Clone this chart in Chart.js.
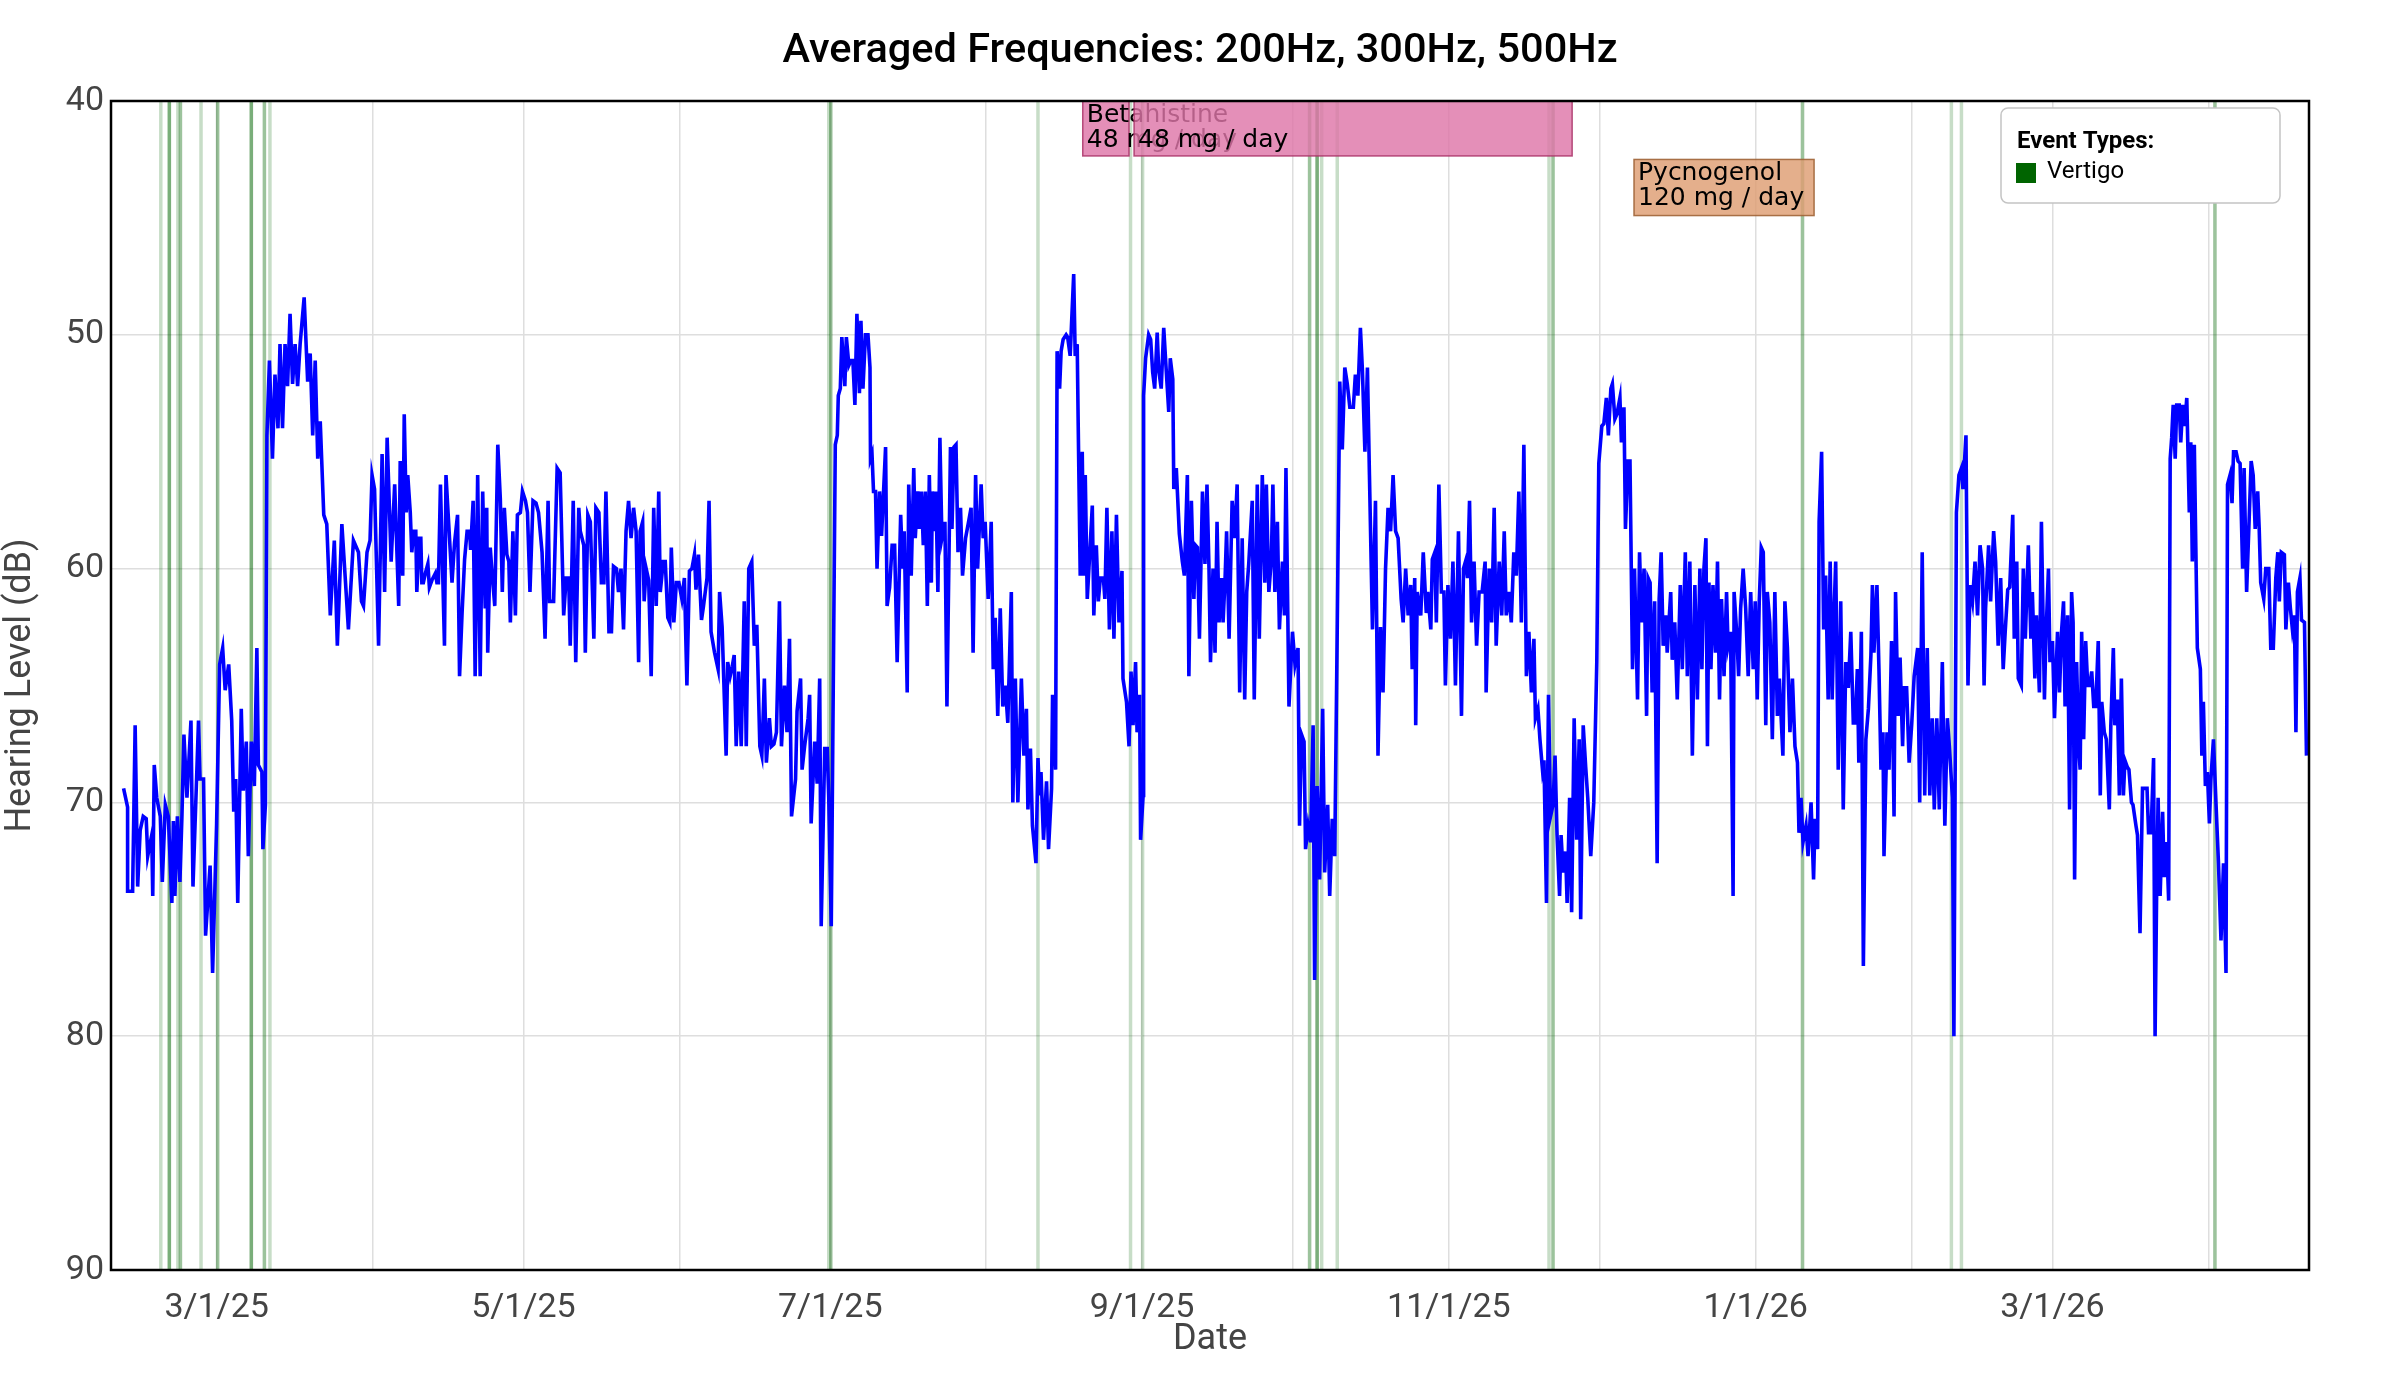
<!DOCTYPE html>
<html>
<head>
<meta charset="utf-8">
<title>Averaged Frequencies</title>
<script src="https://cdn.jsdelivr.net/npm/chart.js@4.4.1/dist/chart.umd.min.js"></script>
<style>
  html, body { margin: 0; padding: 0; background: #fff; }
</style>
</head>
<body>
<canvas id="hearingChart" width="2400" height="1400"></canvas>
<script>
// x values are days counted from 2025-03-01
const days = [
  -18.5,-17.7,-17.7,-16.7,-16.2,-15.7,-15.2,-14.6,-14.0,-13.7,
  -12.9,-12.7,-12.4,-11.9,-11.2,-10.8,-10.2,-9.6,-8.9,-8.6,
  -8.3,-7.8,-7.3,-6.9,-6.5,-5.9,-5.1,-4.7,-3.6,-3.3,
  -2.6,-2.2,-1.3,-0.8,0.0,0.6,1.2,1.7,2.4,3.0,
  3.4,3.8,4.2,4.9,5.3,5.9,6.3,6.9,7.5,8.0,
  8.3,9.0,9.2,9.7,10.0,10.5,11.1,11.6,12.2,12.6,
  13.1,13.6,14.1,14.6,15.1,15.6,16.1,16.6,17.4,18.1,
  18.6,19.1,19.6,20.1,20.6,21.3,21.9,22.6,23.4,24.0,
  24.9,25.6,26.2,27.2,28.2,28.8,29.2,29.9,30.5,30.9,
  31.4,32.2,32.9,33.4,33.9,34.7,35.4,36.2,36.5,37.0,
  37.3,
  37.7,38.0,38.5,38.8,39.2,39.6,39.8,40.3,40.6,40.8,
  41.1,41.5,42.0,42.3,42.8,43.5,43.8,44.1,44.5,44.8,
  45.3,45.6,46.3,46.8,47.3,47.9,48.3,48.8,49.3,49.8,
  50.3,50.5,51.0,51.4,51.9,52.4,52.9,53.4,53.7,53.9,
  54.4,54.7,55.3,55.9,56.4,56.8,57.2,57.7,58.1,58.4,
  58.9,59.4,59.8,60.4,60.8,61.4,61.8,62.3,62.9,63.5,
  64.0,64.7,65.3,65.9,66.2,67.0,67.7,68.3,69.0,69.5,
  70.0,70.3,70.9,71.4,72.0,72.3,73.0,73.3,73.8,74.3,
  75.0,75.4,76.0,76.5,77.0,77.4,78.0,78.5,78.9,79.5,
  79.9,80.4,80.9,81.4,81.9,82.4,82.9,83.4,83.9,84.2,
  84.7,85.0,85.4,85.9,86.4,86.9,87.4,87.9,88.2,88.8,
  89.2,89.7,90.1,90.4,90.9,91.4,91.9,
  92.5,93.0,93.5,94.0,94.5,95.0,95.3,95.8,96.4,96.8,
  97.5,97.9,98.3,99.0,99.7,100.0,100.5,101.3,101.6,102.1,
  102.5,102.9,103.3,103.8,104.3,104.9,105.3,105.8,106.4,106.9,
  107.4,108.0,108.4,108.9,109.3,109.9,110.3,110.8,111.3,111.9,
  112.3,112.9,113.4,113.9,114.3,114.7,115.1,115.4,116.1,116.4,
  116.9,117.6,117.9,118.2,118.9,119.4,119.9,120.2,120.9,121.4,
  121.7,122.2,123.0,123.4,123.6,124.0,124.3,124.9,125.2,125.7,
  126.1,126.5,126.9,127.3,127.8,128.1,128.5,129.0,129.5,129.9,
  130.0,130.3,130.6,131.0,131.3,131.8,132.2,132.6,133.0,133.3,
  133.8,134.3,134.8,135.3,136.0,136.4,136.7,137.3,137.6,138.1,
  138.6,138.9,139.4,139.7,140.1,140.5,140.9,141.3,141.7,142.1,
  142.3,142.8,143.0,143.4,143.8,144.2,144.8,145.2,145.9,146.2,
  146.6,
  147.0,147.4,147.9,148.3,148.9,149.5,150.0,150.4,150.9,151.3,
  152.0,152.4,152.8,153.4,154.0,154.4,154.8,155.3,155.8,156.3,
  156.8,157.3,158.0,158.3,158.8,159.3,160.0,160.5,161.0,161.3,
  161.8,162.2,162.9,163.3,163.6,163.9,164.4,165.0,165.4,166.0,
  166.2,166.8,167.1,167.6,167.9,168.3,168.9,169.2,169.7,170.4,
  170.7,171.1,171.3,171.7,172.1,172.4,172.7,173.1,173.5,174.1,
  174.4,174.9,175.3,175.7,176.3,176.6,177.0,177.5,178.0,178.4,
  178.9,179.4,180.0,180.2,180.9,181.4,181.8,182.2,182.7,183.0,
  183.5,183.7,184.2,184.3,184.7,185.3,185.7,186.1,186.5,187.0,
  187.3,187.8,188.3,188.9,189.3,189.6,190.1,190.3,190.8,191.4,
  192.0,192.4,193.0,193.3,193.8,194.3,194.6,195.0,195.4,196.0,
  196.5,196.9,197.3,197.6,198.1,198.5,198.9,199.3,199.8,200.1,
  200.5,200.8,201.3,
  201.9,202.4,202.9,203.4,203.9,204.4,204.8,205.2,205.9,206.3,
  206.9,207.3,207.9,208.4,208.7,209.2,209.7,210.0,210.4,210.9,
  211.3,211.9,212.3,212.6,213.2,213.9,214.4,215.0,215.3,215.7,
  216.2,216.5,217.0,217.5,218.0,218.3,218.8,219.3,219.9,220.3,
  220.9,221.3,221.8,222.3,222.8,223.3,223.8,224.3,224.8,225.3,
  226.0,226.4,226.9,227.4,227.8,228.3,228.8,229.2,229.8,230.4,
  230.9,231.4,231.9,232.4,232.9,233.4,233.9,234.4,234.9,235.5,
  235.9,236.4,236.9,237.4,237.7,238.2,238.4,238.7,239.4,239.9,
  240.5,240.8,241.4,241.7,242.2,242.5,243.0,243.5,244.0,244.3,
  244.8,245.3,245.8,246.3,246.9,247.5,247.9,248.3,248.7,249.1,
  249.5,250.0,250.5,251.0,251.6,252.2,252.4,253.0,253.5,254.0,
  254.4,255.0,255.5,256.0,
  256.4,256.9,257.4,257.9,258.4,258.9,259.4,259.9,260.4,260.9,
  261.4,261.9,262.2,262.7,263.1,263.6,263.9,264.4,264.8,265.2,
  265.7,266.1,266.5,267.0,267.3,267.7,268.2,268.5,269.0,269.4,
  269.9,270.4,270.9,271.2,271.7,272.2,272.6,273.2,273.8,274.4,
  274.8,275.4,275.8,276.3,276.7,277.2,277.5,278.0,278.4,279.0,
  279.3,279.8,280.1,280.6,281.0,281.5,281.9,282.5,282.9,283.3,
  283.8,284.3,284.6,285.0,285.4,285.9,286.4,286.8,287.2,287.6,
  288.1,288.4,289.1,289.4,289.9,290.4,291.0,291.4,292.0,292.4,
  292.9,293.4,293.9,294.4,294.9,295.3,295.7,296.1,296.4,296.7,
  297.1,297.5,298.0,298.4,298.8,299.2,299.7,300.2,300.5,301.0,
  301.5,301.7,302.2,302.6,303.0,303.5,304.0,304.5,305.0,305.5,
  305.9,306.3,306.7,307.1,307.5,308.0,308.3,308.8,309.3,309.8,
  310.3,310.7,
  311.4,311.8,312.3,312.8,313.3,313.8,314.3,314.6,315.0,315.4,
  316.0,316.4,317.0,317.5,317.8,318.3,318.6,319.1,319.5,319.9,
  320.4,320.8,321.2,321.6,321.9,322.4,322.9,323.4,323.9,324.4,
  324.9,325.4,325.8,326.2,326.5,327.0,327.4,327.9,328.4,328.9,
  329.2,329.5,330.1,330.5,330.9,331.3,331.5,332.1,332.5,333.0,
  333.5,333.8,334.3,334.7,335.2,335.5,336.0,336.5,337.0,337.5,
  338.2,338.6,339.1,339.6,340.1,340.6,341.1,341.5,342.0,342.5,
  343.1,343.6,344.1,344.5,344.8,345.1,345.4,345.9,346.4,346.9,
  347.2,347.8,348.2,348.6,349.1,349.6,350.1,350.6,351.1,351.4,
  351.7,352.3,352.7,353.3,353.7,354.2,354.7,355.2,355.6,356.1,
  356.5,357.1,357.4,357.9,358.2,358.8,359.2,359.6,360.2,360.7,
  361.0,361.5,361.8,362.4,362.8,363.4,363.7,364.2,364.5,365.0,
  365.4,
  366.0,366.4,366.8,367.2,367.5,368.0,368.4,368.8,369.1,369.4,
  369.8,370.2,370.5,370.8,371.2,371.6,372.0,372.4,372.8,373.2,
  373.6,374.1,374.5,374.8,375.3,375.7,376.3,376.6,377.1,377.4,
  377.9,378.3,378.7,379.1,379.4,379.9,380.2,380.7,381.0,381.6,
  381.9,382.4,382.9,383.4,383.8,384.1,384.6,385.1,385.4,385.7,
  386.0,386.4,386.9,387.2,387.7,388.1,388.4,388.7,389.0,389.4,
  389.7,390.2,390.5,390.9,391.3,391.7,392.2,392.5,392.8,393.2,
  393.5,393.8,394.4,394.7,395.0,395.4,395.8,396.2,396.5,397.0,
  397.5,398.0,398.5,399.0,399.5,399.8,400.3,400.7,401.0,401.5,
  401.9,402.3,402.8,403.1,403.6,404.5,404.9,405.3,405.8,406.1,
  406.4,407.0,407.4,408.0,408.4,408.9,409.4,409.8,410.1,410.5,
  411.1,411.4,411.9,412.3,412.7,413.1,413.4,413.7,414.2,414.5,
  415.1,415.5
];

const hearingDb = [
  69.4,70.2,73.8,73.8,66.7,73.6,71.2,70.6,70.7,72.3,
  71.4,74.0,68.4,69.8,70.6,73.4,70.1,70.6,74.3,70.8,
  74.0,70.6,73.4,70.6,67.1,69.8,66.5,73.6,66.5,69.0,
  69.0,75.7,72.7,77.3,70.9,64.1,63.4,65.2,64.1,66.5,
  70.4,69.0,74.3,66.0,69.5,67.4,72.3,67.4,69.3,63.4,
  68.4,68.7,72.0,70.1,54.3,51.1,55.3,51.7,54.0,50.4,
  54.0,50.4,52.2,49.1,52.1,50.4,52.2,50.4,48.4,52.0,
  50.8,54.3,51.1,55.3,53.7,57.7,58.1,62.0,58.8,63.3,
  58.1,60.5,62.6,58.8,59.3,61.4,61.6,59.3,58.8,56.0,
  56.6,63.3,55.1,61.0,54.4,59.7,56.4,61.6,55.4,60.3,
  53.4,
  57.6,56.0,57.6,59.3,58.4,58.4,61.0,58.7,58.7,60.6,
  60.6,60.2,59.8,60.8,60.5,60.2,60.6,60.6,56.4,58.9,
  63.3,56.0,58.7,60.6,58.9,57.7,64.6,61.9,59.6,58.4,
  58.4,59.2,57.1,64.6,56.0,64.6,56.7,61.7,57.4,63.6,
  59.1,60.0,61.6,54.7,57.0,61.0,57.4,59.4,59.7,62.3,
  58.4,62.0,57.7,57.6,56.7,57.1,57.6,61.0,57.1,57.2,
  57.6,59.3,63.0,57.1,61.4,61.4,55.7,55.9,62.0,60.4,
  60.4,63.3,57.1,64.0,57.4,58.4,59.0,63.6,57.7,58.0,
  63.0,57.4,57.6,60.6,60.6,56.7,62.7,62.7,59.9,60.0,
  61.0,60.0,62.6,58.4,57.1,58.7,57.4,58.4,64.0,58.4,
  58.0,61.4,60.0,60.5,64.6,57.4,61.6,56.7,61.0,59.7,
  59.7,62.1,62.3,59.1,62.3,60.6,60.6,
  61.3,60.4,65.0,60.1,60.0,59.4,60.9,59.4,62.2,61.6,
  60.4,57.1,62.7,63.6,64.3,61.0,62.5,68.0,64.0,64.6,
  64.2,63.7,67.6,64.4,67.6,61.4,67.6,60.0,59.7,63.3,
  62.4,67.6,68.0,64.7,68.3,66.4,67.6,67.5,67.0,61.4,
  67.6,65.0,67.0,63.0,70.6,69.8,69.0,66.1,64.7,68.6,
  67.6,66.4,65.4,70.9,67.4,69.2,64.7,75.3,67.7,67.7,
  69.8,75.3,54.7,54.3,52.6,52.3,50.1,52.2,50.1,51.3,
  51.1,51.1,53.0,49.1,52.5,49.4,52.3,50.0,50.0,51.4,
  55.3,55.1,56.7,56.7,60.0,56.7,58.6,56.7,54.8,61.6,
  60.8,59.0,59.0,64.0,57.7,60.0,58.4,65.3,56.4,60.3,
  55.7,58.7,56.7,58.3,56.7,59.0,56.7,61.6,56.0,60.6,
  56.7,58.4,56.7,61.0,54.4,58.7,58.0,65.9,54.8,58.3,
  54.8,
  54.7,59.3,57.4,60.3,58.7,58.0,57.4,63.6,56.0,60.0,
  56.4,58.7,58.0,61.3,58.0,64.3,62.1,66.3,61.7,65.9,
  65.0,66.6,61.0,70.0,64.7,70.0,64.7,68.0,66.0,70.3,
  67.7,71.0,72.6,68.1,69.7,68.7,71.6,69.1,72.0,69.4,
  65.4,68.6,50.7,52.3,50.7,50.2,50.0,50.1,50.9,47.4,
  50.9,50.4,53.9,60.3,55.0,60.3,56.0,61.3,59.7,57.3,
  62.0,59.0,61.4,60.4,60.4,61.3,57.4,62.6,58.4,63.0,
  57.7,62.3,60.1,64.7,65.7,67.6,64.4,66.7,64.0,67.0,
  65.4,71.6,69.7,52.6,51.0,50.0,50.2,51.6,52.3,49.9,
  51.5,52.3,49.7,51.9,53.3,51.0,51.9,56.6,55.7,58.5,
  59.7,60.3,56.0,64.6,57.1,61.3,59.0,59.1,63.0,56.7,
  59.8,56.4,60.0,64.0,60.0,63.6,58.0,62.3,60.4,62.3,
  60.4,58.4,63.0,
  57.1,58.7,56.4,65.3,58.7,65.6,61.0,59.8,57.1,65.6,
  56.4,63.0,56.0,60.6,56.4,61.0,59.6,56.4,61.0,58.0,
  62.6,59.7,62.0,55.7,65.9,62.7,64.1,63.4,71.0,67.1,
  67.4,72.0,71.0,71.7,66.7,77.6,69.3,73.3,66.0,73.0,
  70.1,74.0,70.7,72.3,62.5,52.0,54.9,51.4,52.1,53.1,
  53.1,51.7,52.6,49.7,51.5,55.0,51.4,56.0,62.6,57.1,
  68.0,62.5,65.3,60.0,57.4,58.4,56.0,58.4,58.7,61.3,
  62.3,60.0,62.0,60.7,64.3,60.4,66.7,61.0,62.0,59.3,
  61.9,61.0,62.6,59.6,59.3,62.3,56.4,61.0,61.0,65.0,
  60.7,63.0,59.7,65.0,58.4,66.3,60.0,59.7,60.4,57.1,
  62.3,59.7,63.3,61.0,61.0,59.7,65.3,60.0,62.3,57.4,
  63.3,59.7,62.0,58.4,
  62.0,61.0,62.3,59.3,60.3,56.7,62.3,54.7,64.6,62.7,
  65.3,63.0,66.4,66.0,67.3,68.6,68.2,74.3,65.4,70.6,
  70.1,68.0,71.4,74.0,71.4,73.0,72.1,74.3,69.8,74.7,
  66.4,71.6,67.3,75.0,66.7,68.5,69.8,72.3,70.0,64.0,
  55.5,53.9,53.8,52.7,54.3,52.3,52.1,53.6,53.4,52.7,
  54.6,53.1,58.3,55.4,55.4,64.3,60.0,65.6,59.3,62.3,
  60.0,66.3,60.4,60.6,65.3,61.4,72.6,61.3,59.3,63.3,
  62.0,63.6,61.0,63.9,62.3,65.6,60.7,64.3,59.3,64.6,
  59.7,68.0,60.7,65.6,60.0,64.3,60.0,58.7,67.6,60.6,
  64.3,60.7,63.6,59.7,65.6,61.3,64.6,61.0,63.3,62.7,
  74.0,61.0,62.7,64.6,61.7,60.0,61.7,64.6,61.0,64.3,
  61.4,65.6,61.4,59.1,59.3,66.7,61.0,62.3,67.3,61.0,
  66.3,64.7,
  68.0,61.4,63.4,67.0,64.7,67.6,68.3,71.3,69.8,71.7,
  71.0,72.3,70.0,73.3,70.7,72.0,58.0,55.0,62.6,60.3,
  65.6,59.7,65.6,61.7,59.7,68.6,61.4,70.3,64.0,65.1,
  62.7,66.6,66.6,64.3,68.3,62.7,77.0,67.3,66.0,63.7,
  60.7,63.6,60.7,64.3,68.6,67.0,72.3,67.0,68.6,63.1,
  70.6,61.0,66.3,63.8,67.6,65.1,65.1,68.3,66.7,64.6,
  63.4,70.0,59.3,69.7,63.4,69.7,66.4,70.3,66.4,70.3,
  64.0,71.0,66.4,67.6,68.7,69.8,80.0,57.6,56.0,55.7,
  56.6,54.3,65.0,60.7,61.4,59.7,62.0,59.0,60.0,65.0,
  61.7,59.0,61.4,58.4,59.7,63.3,60.4,64.3,62.7,60.9,
  60.8,57.7,63.0,59.7,64.7,65.0,60.0,63.0,59.0,63.0,
  61.0,64.7,62.0,65.3,58.0,65.6,62.9,60.0,64.0,63.1,
  66.4,
  62.7,65.3,62.7,61.4,65.9,62.0,70.3,61.0,62.3,73.3,
  64.0,67.6,68.6,62.7,67.3,63.1,65.0,65.0,64.4,65.9,
  65.9,63.1,69.7,65.7,67.0,67.3,70.3,66.7,63.4,66.7,
  65.6,69.7,64.7,69.7,68.2,68.5,68.6,70.0,70.1,71.0,
  71.4,75.6,69.4,69.4,69.4,71.3,71.3,68.1,80.0,74.0,
  69.8,74.0,70.4,73.2,71.7,74.2,55.3,54.4,53.0,55.3,
  53.0,53.0,54.6,53.0,53.9,52.7,57.6,54.6,59.7,54.7,
  59.1,63.4,64.3,68.0,65.7,69.3,68.7,70.9,69.0,67.3,
  70.0,72.6,75.9,72.6,77.3,56.4,56.0,57.2,55.0,55.0,
  55.4,55.5,60.0,55.7,61.0,55.4,56.0,58.3,56.7,58.3,
  60.6,61.3,60.0,60.0,63.4,63.4,60.4,59.3,61.4,59.3,
  59.4,62.6,60.6,61.7,62.6,62.0,67.0,61.0,60.4,62.2,
  62.3,68.0
];

// month starts (days from 2025-03-01) and their labels
const monthStarts = [0, 31, 61, 92, 122, 153, 184, 214, 245, 275, 306, 337, 365, 396];
const monthLabels = ['3/1/25', '', '5/1/25', '', '7/1/25', '', '9/1/25', '', '11/1/25', '', '1/1/26', '', '3/1/26', ''];
const dbTicks = [40, 50, 60, 70, 80, 90];

// vertigo events (a repeated day means several events that day)
const vertigoDays = [
  -11.1, -9.4, -9.4, -9.4, -7.7, -7.2, -7.2, -3.1, 0.2, 0.2,
  6.9, 6.9, 6.9, 9.5, 9.5, 10.6, 121.7, 122.1, 122.1, 163.3,
  181.7, 184.1, 217.3, 217.3, 218.8, 218.8, 218.8, 219.7, 222.8,
  264.9, 265.7, 265.7, 315.3, 315.3, 344.9, 346.9, 397.3, 397.3
];

// medication periods
const medNames = ['Betahistine', '', 'Pycnogenol'];
const medDoses = ['48 mg / day', '48 mg / day', '120 mg / day'];
const medStart = [172.2, 182.4, 281.8];
const medEnd = [181.4, 269.5, 317.6];
const medRow = [0, 0, 1];

if (days.length !== hearingDb.length) {
  throw new Error('length mismatch ' + days.length + ' vs ' + hearingDb.length);
}

const FONT = 'Roboto';
const boxStyles = [
  { fill: 'rgba(222, 117, 167, 0.81)', stroke: 'rgba(170, 50, 105, 0.85)' },
  { fill: 'rgba(222, 117, 167, 0.81)', stroke: 'rgba(170, 50, 105, 0.85)' },
  { fill: 'rgba(222, 157, 113, 0.81)', stroke: 'rgba(160, 100, 55, 0.9)' }
];
const rowSpans = [[40, 42.35], [42.5, 44.9]];

const overlays = {
  id: 'overlays',
  beforeDatasetsDraw(chart) {
    const { ctx, chartArea: a, scales: { x } } = chart;
    ctx.save();
    ctx.beginPath();
    ctx.rect(a.left, a.top, a.width, a.height);
    ctx.clip();
    ctx.strokeStyle = 'rgba(0, 100, 0, 0.22)';
    ctx.lineWidth = 3.5;
    vertigoDays.forEach(d => {
      const px = x.getPixelForValue(d);
      ctx.beginPath();
      ctx.moveTo(px, a.top);
      ctx.lineTo(px, a.bottom);
      ctx.stroke();
    });
    ctx.restore();
  },
  afterDatasetsDraw(chart) {
    const { ctx, chartArea: a, scales: { x, y } } = chart;
    ctx.save();

    // medication boxes, each with its text, in order
    medNames.forEach((name, i) => {
      const x0 = x.getPixelForValue(medStart[i]);
      const x1 = x.getPixelForValue(medEnd[i]);
      const span = rowSpans[medRow[i]];
      const y0 = y.getPixelForValue(span[0]);
      const y1 = y.getPixelForValue(span[1]);
      ctx.fillStyle = boxStyles[i].fill;
      ctx.fillRect(x0, y0, x1 - x0, y1 - y0);
      ctx.strokeStyle = boxStyles[i].stroke;
      ctx.lineWidth = 1.5;
      ctx.strokeRect(x0, y0, x1 - x0, y1 - y0);
      ctx.fillStyle = '#000';
      ctx.font = '25px "DejaVu Sans"';
      ctx.textAlign = 'left';
      ctx.textBaseline = 'alphabetic';
      if (name) ctx.fillText(name, x0 + 4, y0 + 21);
      ctx.fillText(medDoses[i], x0 + 4, y0 + 46);
    });

    // legend box
    const lx = a.right - 308, ly = a.top + 7, lw = 279, lh = 95, r = 7;
    ctx.beginPath();
    ctx.moveTo(lx + r, ly);
    ctx.arcTo(lx + lw, ly, lx + lw, ly + lh, r);
    ctx.arcTo(lx + lw, ly + lh, lx, ly + lh, r);
    ctx.arcTo(lx, ly + lh, lx, ly, r);
    ctx.arcTo(lx, ly, lx + lw, ly, r);
    ctx.closePath();
    ctx.fillStyle = '#fff';
    ctx.fill();
    ctx.strokeStyle = '#c4c4c4';
    ctx.lineWidth = 1.5;
    ctx.stroke();
    ctx.fillStyle = '#000';
    ctx.font = 'bold 24px ' + FONT;
    ctx.fillText('Event Types:', lx + 16, ly + 40);
    ctx.fillStyle = '#006400';
    ctx.fillRect(lx + 15, ly + 55, 20, 20);
    ctx.fillStyle = '#000';
    ctx.font = '24px ' + FONT;
    ctx.fillText('Vertigo', lx + 46, ly + 70);

    // plot frame
    ctx.strokeStyle = '#000';
    ctx.lineWidth = 2.5;
    ctx.strokeRect(a.left, a.top, a.width, a.height);
    ctx.restore();
  }
};

const ctx = document.getElementById('hearingChart').getContext('2d');
new Chart(ctx, {
  type: 'line',
  data: {
    datasets: [{
      label: 'Hearing Level',
      data: days.map((d, i) => ({ x: d, y: hearingDb[i] })),
      borderColor: '#0000ff',
      borderWidth: 3.6,
      pointRadius: 0,
      tension: 0,
      fill: false
    }]
  },
  options: {
    responsive: false,
    animation: false,
    devicePixelRatio: 1,
    layout: { padding: 0 },
    plugins: {
      legend: { display: false },
      tooltip: { enabled: false },
      title: {
        display: true,
        text: 'Averaged Frequencies: 200Hz, 300Hz, 500Hz',
        color: '#000',
        font: { family: FONT, size: 41.5, weight: '500', lineHeight: 1.2 },
        padding: { top: 27, bottom: 24.2 }
      }
    },
    scales: {
      x: {
        type: 'linear',
        min: -21,
        max: 416,
        afterBuildTicks: s => { s.ticks = monthStarts.map(v => ({ value: v })); },
        afterFit: s => { s.height = 130; },
        ticks: {
          autoSkip: false,
          maxRotation: 0,
          callback: v => monthLabels[monthStarts.indexOf(v)],
          color: '#444',
          font: { family: FONT, size: 34, lineHeight: 1.2 },
          padding: 18
        },
        grid: { color: '#dedede', lineWidth: 1.5, drawTicks: false },
        border: { display: false },
        title: {
          display: true,
          text: 'Date',
          color: '#444',
          font: { family: FONT, size: 36, lineHeight: 1 },
          padding: { top: 0, bottom: 42 }
        }
      },
      y: {
        reverse: true,
        min: 40,
        max: 90,
        afterBuildTicks: s => { s.ticks = dbTicks.map(v => ({ value: v })); },
        afterFit: s => { s.width = 111; },
        ticks: {
          color: '#444',
          font: { family: FONT, size: 34, lineHeight: 1.2 },
          padding: 7
        },
        grid: { color: '#dedede', lineWidth: 1.5, drawTicks: false },
        border: { display: false },
        title: {
          display: true,
          text: 'Hearing Level (dB)',
          color: '#444',
          font: { family: FONT, size: 36, lineHeight: 1 },
          padding: { top: 3, bottom: 0 }
        }
      },
      // empty right-hand margin so the title centres on the whole canvas
      yRight: {
        position: 'right',
        afterFit: s => { s.width = 91; },
        ticks: { display: false },
        grid: { display: false },
        border: { display: false }
      }
    }
  },
  plugins: [overlays]
});
</script>
</body>
</html>
